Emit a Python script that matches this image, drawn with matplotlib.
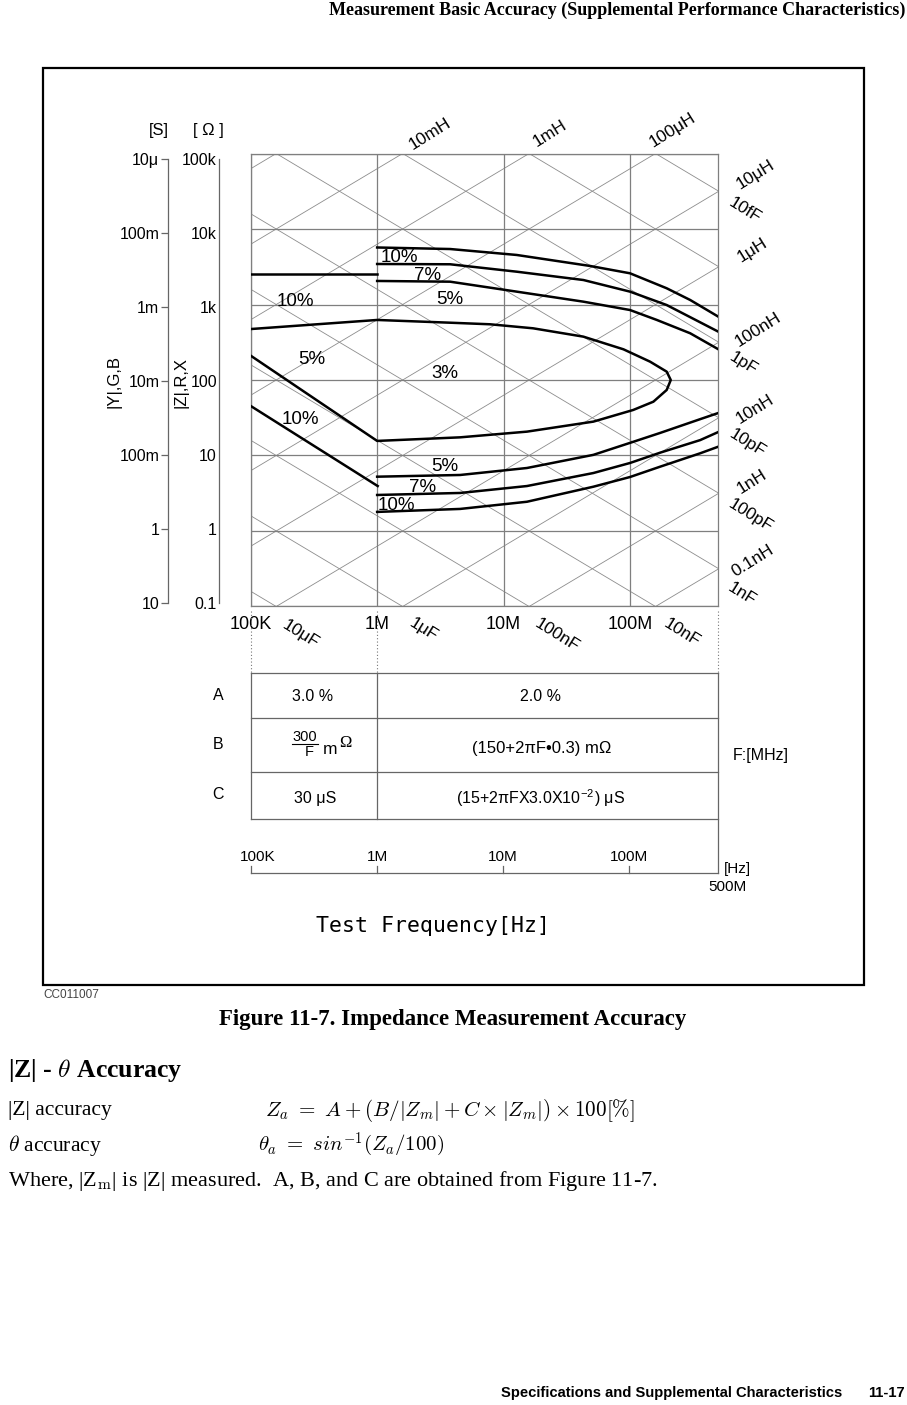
import numpy as np
import matplotlib
matplotlib.use("Agg")
import matplotlib.pyplot as plt
from matplotlib.lines import Line2D
from matplotlib.patches import Rectangle
from matplotlib.ticker import NullLocator
from matplotlib import font_manager as fm

plt.rcParams['mathtext.fontset'] = 'cm'
plt.rcParams['font.family'] = ['Liberation Sans', 'DejaVu Sans']

W, H = 907, 1405

# ---------------- data ----------------
freq_ticks_hz = [1e5, 1e6, 1e7, 1e8]
freq_tick_labels = ['100K', '1M', '10M', '100M']
z_ticks_ohm = [0.1, 1, 10, 100, 1e3, 1e4, 1e5]
z_tick_labels = ['0.1', '1', '10', '100', '1k', '10k', '100k']
y_tick_labels = ['10', '1', '100m', '10m', '1m', '100m', '10μ']

inductances_h = [1e-1, 1e-2, 1e-3, 1e-4, 1e-5, 1e-6, 1e-7, 1e-8, 1e-9, 1e-10]
capacitances_f = [1e-5, 1e-6, 1e-7, 1e-8, 1e-9, 1e-10, 1e-11, 1e-12, 1e-13, 1e-14]

left10_f = [1e5, 1e6]
left10_z = [2530, 2530]

up10_f = [1.0e6, 3.78e6, 12.7e6, 48.3e6, 100e6, 195e6, 299e6, 500e6]
up10_z = [5690, 5430, 4530, 3240, 2590, 1640, 1148, 689]
up7_f = [1.0e6, 3.78e6, 12.7e6, 42.8e6, 100e6, 195e6, 299e6, 500e6]
up7_z = [3440, 3410, 2720, 2110, 1480, 984, 680, 436]
up5_f = [1.0e6, 3.78e6, 12.7e6, 42.8e6, 100e6, 163e6, 299e6, 500e6]
up5_z = [2050, 2005, 1480, 1090, 845, 624, 416, 255]

band3_f = [1e5, 1e6, 3.78e6, 7.82e6, 17.1e6, 42.8e6, 88.7e6, 144e6, 195e6, 210e6,
           195e6, 153e6, 106e6, 51.3e6, 15.3e6, 4.53e6, 1e6, 1e5]
band3_z = [473, 624, 574, 547, 484, 375, 255, 175, 129, 100,
           73.8, 51.6, 40.1, 28.1, 20.7, 17.4, 15.6, 210]

low10_desc_f = [1e5, 1.01e6]
low10_desc_z = [45.3, 3.94]

lo_f = [1e6, 4.53e6, 15.3e6, 51.3e6, 100e6, 173e6, 359e6, 500e6]
lo5_z = [5.24, 5.52, 6.83, 10.2, 14.7, 19.9, 30.3, 36.6]
lo7_z = [3.0, 3.19, 3.94, 5.86, 7.96, 10.9, 16.0, 20.5]
lo10_z = [1.79, 1.96, 2.44, 3.86, 5.19, 7.11, 10.7, 13.1]

# ---------------- helpers ----------------
fig = plt.figure(figsize=(W / 100, H / 100), dpi=100)


def fx(x):
    return x / W


def fy(y):
    return 1 - y / H


def T(x, y, s, **kw):
    kw.setdefault('ha', 'center')
    kw.setdefault('va', 'center')
    return fig.text(fx(x), fy(y), s, **kw)


def L(xs, ys, **kw):
    kw.setdefault('color', '#666666')
    kw.setdefault('lw', 0.9)
    fig.add_artist(Line2D([fx(v) for v in xs], [fy(v) for v in ys],
                          transform=fig.transFigure, **kw))


names = {f.name for f in fm.fontManager.ttflist}
serif = ['Liberation Serif', 'DejaVu Serif']
if 'Liberation Sans Narrow' in names:
    narrow_fam, narrow_size = ['Liberation Sans Narrow', 'Liberation Sans'], 12.5
else:
    narrow_fam, narrow_size = ['Liberation Sans'], 10.6

GRID = '#7f7f7f'
DIAG = '#8c8c8c'

# ---------------- main chart ----------------
x0, x1, yt, yb = 250.7, 718.4, 153.5, 606.5
ax = fig.add_axes([fx(x0), fy(yb), (x1 - x0) / W, (yb - yt) / H])
ax.set_xscale('log')
ax.set_yscale('log')
ax.set_xlim(1e5, 5e8)
ax.set_ylim(0.1, 1e5)
for s in ax.spines.values():
    s.set_color(GRID)
    s.set_linewidth(0.9)
ax.set_xticks(freq_ticks_hz)
ax.set_xticklabels(freq_tick_labels)
ax.set_yticks(z_ticks_ohm)
ax.set_yticklabels([])
ax.xaxis.set_minor_locator(NullLocator())
ax.yaxis.set_minor_locator(NullLocator())
ax.tick_params(axis='both', length=0)
ax.tick_params(axis='x', pad=7, labelsize=13)
ax.grid(True, which='major', color=GRID, lw=0.9)

fgrid = np.logspace(5, np.log10(5e8), 300)
for Lh in inductances_h:
    ax.plot(fgrid, 2 * np.pi * fgrid * Lh, color=DIAG, lw=0.6, zorder=1)
for Cf in capacitances_f:
    ax.plot(fgrid, 1 / (2 * np.pi * fgrid * Cf), color=DIAG, lw=0.6, zorder=1)

lw_c = 1.8
for f_, z_ in [(left10_f, left10_z), (up10_f, up10_z), (up7_f, up7_z), (up5_f, up5_z),
               (band3_f, band3_z), (low10_desc_f, low10_desc_z),
               (lo_f, lo5_z), (lo_f, lo7_z), (lo_f, lo10_z)]:
    ax.plot(f_, z_, color='black', lw=lw_c, zorder=3, solid_joinstyle='round')

# percent labels
pct_fs = 13.5
for (px_, py_, s) in [(399, 258, '10%'), (428, 275, '7%'), (450, 300, '5%'),
                      (295, 301.5, '10%'), (311.5, 360, '5%'), (445, 373, '3%'),
                      (300, 420, '10%'), (445, 466.5, '5%'), (423, 487.5, '7%'),
                      (396.5, 505.5, '10%')]:
    T(px_, py_, s, fontsize=pct_fs, zorder=5)

# L / C line labels
lc_fs = 12.5
for (px_, py_, s, r) in [(430, 134, '10mH', 32), (550, 133, '1mH', 32), (672, 130, '100μH', 32),
                         (755, 175, '10μH', 32), (745, 210, '10fF', -32), (752, 250, '1μH', 32),
                         (758, 330, '100nH', 32), (743, 364, '1pF', -32),
                         (755, 409, '10nH', 32), (747, 443, '10pF', -32),
                         (752, 482, '1nH', 32), (750, 516, '100pF', -32),
                         (753, 561, '0.1nH', 32), (742, 594, '1nF', -32),
                         (301, 634, '10μF', -32), (423, 630, '1μF', -32),
                         (557, 635, '100nF', -32), (682, 633, '10nF', -32)]:
    T(px_, py_, s, fontsize=lc_fs, rotation=r, rotation_mode='anchor')

# ---------------- left scales ----------------
for xpos, labels, tlen in [(168.3, y_tick_labels, 5), (219, z_tick_labels, 0)]:
    a = fig.add_axes([fx(xpos), fy(603), 0.0001, (603 - 159) / H])
    a.set_yscale('log')
    a.set_ylim(0.1, 1e5)
    a.patch.set_visible(False)
    for s in ['top', 'right', 'bottom']:
        a.spines[s].set_visible(False)
    a.spines['left'].set_color('#666666')
    a.spines['left'].set_linewidth(0.9)
    a.set_xticks([])
    a.set_yticks(z_ticks_ohm)
    a.set_yticklabels(labels)
    a.yaxis.set_minor_locator(NullLocator())
    a.tick_params(axis='y', length=tlen, width=0.9, color='#666666', pad=1.5, labelsize=11.5)

T(159, 131, '[S]', fontsize=12)
T(208, 131, '[ Ω ]', fontsize=12)
T(114, 382, '|Y|,G,B', fontsize=12, rotation=90)
T(181, 383, '|Z|,R,X', fontsize=12, rotation=90)

# dotted connectors
for xv in [250.7, 376.7, 718]:
    L([xv, xv], [611, 672.7], color='#777777', lw=0.8, ls=(0, (1, 2)))

# ---------------- table ----------------
tl, tm, tr = 251, 376.7, 717.7
rows = [672.7, 718.3, 772.3, 819.3]
for yv in rows:
    L([tl, tr], [yv, yv])
L([tl, tl], [rows[0], rows[-1]])
L([tm, tm], [rows[0], rows[-1]])
L([tr, tr], [rows[0], 873.3])
L([tl, tr], [873.3, 873.3])
for xv in [250.7, 376.7, 503.3, 629.3]:
    L([xv, xv], [873.3, 866])

tfs = 11.5
T(218, 696, 'A', fontsize=tfs)
T(218, 745, 'B', fontsize=tfs)
T(218, 795, 'C', fontsize=tfs)
T(313, 697, '3.0 %', fontsize=tfs)
T(541, 697, '2.0 %', fontsize=tfs)
T(305, 737, '300', fontsize=10.5)
L([292, 318], [744, 744], color='black', lw=0.8)
T(309, 752, 'F', fontsize=10.5)
T(323, 749, 'm', fontsize=12.5, ha='left')
T(339, 743, 'Ω', fontsize=12, ha='left', family=serif)
T(542, 748, '(150+2πF•0.3) mΩ', fontsize=12)
T(315, 798, '30 μS', fontsize=tfs)
T(541, 798, r'(15+2πFX3.0X10$^{\mathregular{-2}}$) μS', fontsize=tfs)
T(761, 755, 'F:[MHz]', fontsize=tfs)

bfs = 11
for xv, s in zip([258, 378, 503, 629], freq_tick_labels):
    T(xv, 857, s, fontsize=bfs)
T(737, 869, '[Hz]', fontsize=bfs)
T(727, 887, '500M', fontsize=bfs)

T(433, 926, 'Test Frequency[Hz]', fontsize=15.5, family=['DejaVu Sans Mono'])

# outer frame
fig.add_artist(Rectangle((fx(43), fy(985)), (864 - 43) / W, (985 - 68) / H,
                         transform=fig.transFigure, fill=False, lw=1.6, ec='black'))
T(43, 995, 'CC011007', fontsize=8.5, ha='left', color='#444444')

# ---------------- page text ----------------
T(905, 10, 'Measurement Basic Accuracy (Supplemental Performance Characteristics)',
  fontsize=13, ha='right', family=serif, weight='bold')
T(453, 1020, 'Figure 11-7. Impedance Measurement Accuracy', fontsize=16.5,
  family=serif, weight='bold')
T(8, 1071, r'|Z| - $\theta$ Accuracy', fontsize=18.5, ha='left', family=serif, weight='bold')
T(8, 1110, '|Z| accuracy', fontsize=15.5, ha='left', family=serif)
T(265, 1110, r'$Z_a\ =\ A+(B/|Z_m|+C\times|Z_m|)\times100[\%]$', fontsize=15.2, ha='left')
T(8, 1145, r'$\theta$ accuracy', fontsize=15.5, ha='left', family=serif)
T(258, 1145, r'$\theta_a\ =\ sin^{-1}(Z_a/100)$', fontsize=15, ha='left')
T(8, 1181, r'Where, |Z$_{\mathrm{m}}$| is |Z| measured.  A, B, and C are obtained from Figure 11-7.',
  fontsize=16, ha='left', family=serif)

T(842, 1393, 'Specifications and Supplemental Characteristics', fontsize=narrow_size,
  ha='right', family=narrow_fam, weight='bold')
T(905, 1393, '11-17', fontsize=narrow_size, ha='right', family=narrow_fam, weight='bold')

fig.savefig('out.png', dpi=100)
